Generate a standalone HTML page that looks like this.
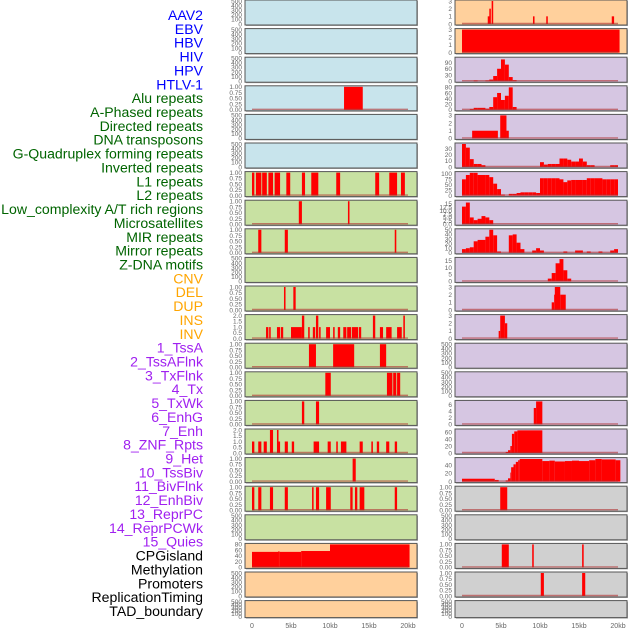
<!DOCTYPE html>
<html><head><meta charset="utf-8">
<style>
html,body{margin:0;padding:0;background:#fff;width:630px;height:630px;overflow:hidden}
svg{display:block}
.lab{font-family:"Liberation Sans",sans-serif;font-size:14.1px}
.tk{font-family:"Liberation Sans",sans-serif;font-size:6.5px;fill:#666}
.xt{font-family:"Liberation Sans",sans-serif;font-size:7px;fill:#666}
</style></head>
<body>
<svg id="chart" width="630" height="630" viewBox="0 0 630 630"></svg>
<script>
const labels=["AAV2","EBV","HBV","HIV","HPV","HTLV-1","Alu repeats","A-Phased repeats","Directed repeats","DNA transposons","G-Quadruplex forming repeats","Inverted repeats","L1 repeats","L2 repeats","Low_complexity A/T rich regions","Microsatellites","MIR repeats","Mirror repeats","Z-DNA motifs","CNV","DEL","DUP","INS","INV","1_TssA","2_TssAFlnk","3_TxFlnk","4_Tx","5_TxWk","6_EnhG","7_Enh","8_ZNF_Rpts","9_Het","10_TssBiv","11_BivFlnk","12_EnhBiv","13_ReprPC","14_ReprPCWk","15_Quies","CPGisland","Methylation","Promoters","ReplicationTiming","TAD_boundary"];
const labelColors=["#0000ff","#006400","#ffa500","#a020f0","#000000"];
const labelGroupSizes=[6,13,5,15,5];
const xTickValues=[0,5,10,15,20];
const xTickLabels=["0","5kb","10kb","15kb","20kb"];
const ticksEmpty=["0","100","200","300","400","500"];
const ticks1=["0.00","0.25","0.50","0.75","1.00"];
const ticks2=["0.0","0.5","1.0","1.5","2.0"];
const ticks3=["0","1","2","3"];
const leftBg=["b","b","b","b","b","b","g","g","g","g","g","g","g","g","g","g","g","g","g","o","o","o"];
const leftYmax=[500,500,500,1,500,500,1,1,1,500,1,2,1,1,1,2,1,1,500,80,500,500];
const leftTicks=[ticksEmpty,ticksEmpty,ticksEmpty,ticks1,ticksEmpty,ticksEmpty,ticks1,ticks1,ticks1,ticksEmpty,ticks1,ticks2,ticks1,ticks1,ticks1,ticks2,ticks1,ticks1,ticksEmpty,["0","20","40","60","80"],ticksEmpty,ticksEmpty];
const leftSegs=[[],[],[],[[11.8,14.2,1]],[],[],
[[0,0.3,1],[0.5,1.2,1],[1.3,1.9,1],[2.1,2.7,1],[2.9,3.6,1],[4.4,4.9,1],[6.4,6.8,1],[7.6,8.5,1],[10.8,11.3,1],[15.8,16.3,1],[17.6,18.6,1],[19.1,19.6,1]],
[[6.0,6.4,1],[12.3,12.5,1]],
[[0.8,1.2,1],[4.2,4.6,1],[18.3,18.5,1]],
[],
[[4.1,4.3,1],[5.3,5.6,1]],
[[1.8,2.1,1],[2.2,2.4,1],[3.2,3.6,1],[3.7,4.0,1],[5.0,6.4,1],[6.4,6.7,2],[7.2,7.4,1],[7.8,8.1,1],[8.2,8.5,2],[8.6,8.8,1],[9.5,10.0,1],[10.4,10.6,1],[11.0,11.3,1],[11.7,12.1,1],[12.2,12.7,1],[12.8,13.6,1],[13.7,14.0,1],[15.5,15.8,2],[16.4,16.8,1],[17.2,17.9,1],[18.6,19.2,1],[19.4,19.6,2]],
[[7.3,8.2,1],[10.4,13.1,1],[16.4,17.2,1]],
[[9.4,10.1,1],[17.3,18.0,1],[18.1,18.5,1],[18.6,19.0,1]],
[[6.4,6.7,1],[8.2,8.6,1]],
[[0,0.3,1],[0.8,1.2,1],[1.5,1.9,1],[2.3,2.7,2],[3.2,3.4,2],[3.4,3.6,1],[4.2,4.6,1],[5.1,5.4,1],[7.9,8.6,1],[9.7,10.1,1],[10.8,11.0,1],[11.4,12.1,1],[13.8,14.2,1],[15.3,15.5,1],[16.0,16.3,1],[17.2,17.6,1],[18.3,18.6,1]],
[[12.9,13.3,1]],
[[0,0.3,1],[0.8,1.2,1],[2.3,2.7,1],[4.2,4.6,1],[7.7,7.9,1],[8.2,8.6,1],[9.5,10.1,1],[12.6,12.9,1],[13.2,13.5,1],[13.8,14.4,1],[18.3,18.6,1]],
[],
[[0,3.4,54],[3.4,3.5,57],[3.5,6.3,54],[6.3,10,57],[10,20.2,80]],
[],[]];
const rightBg=["o","o","p","p","p","p","p","p","p","p","p","p","p","p","p","p","p","y","y","y","y","y"];
const rightYmax=[3,3,111,82,3,38,106,17,50,16.5,3,3,500,500,7,66,56,1,500,1,1,500];
const rightTicks=[ticks3,ticks3,["0","30","60","90"],["0","20","40","60","80"],ticks3,["0","10","20","30"],["0","25","50","75","100"],["0.0","2.5","5.0","7.5","10.0","12.5","15"],["0","10","20","30","40","50"],["0","5","10","15"],ticks3,ticks3,ticksEmpty,ticksEmpty,["0","2","4","6"],["0","20","40","60"],["0","20","40"],ticks1,ticksEmpty,ticks1,ticks1,ticksEmpty];
const binR2=[0,0,0,3,0,0,3,8,25,60,105,80,20,5];
const binR3=[0,0,3,7,7,7,4,10,45,60,35,50,80,10];
const binR5=[38,32,13,5,5,3,0,0,0,0,0,0,0,0,0,0,0,0,0,0,8,4,5,5,5,14,14,12,9,9,14,9,3,3,0,0,0,0,3,3];
const binR6=[75,95,105,105,95,95,95,85,55,30,5,0,8,8,12,15,15,15,15,12,80,80,80,80,80,75,62,70,72,72,72,72,80,80,80,80,75,75,75,75];
const binR7=[13,16,5,3,4,6,5,3];
const binR8=[8,10,12,25,28,28,35,50,38,3,0,0,38,40,22,8,0,0,5,10,5,0,0,0,0,0,3,0,0,5,5,0,3,0,0,3,0,0,5,8];
const binR9=[0,0,0,0,0,0,0,0,0,0,0,0,0,0,0,0,0,0,0,0,0,0,2,6,13,16,8,2];
function bins(a){return a.map((v,i)=>[i*0.5,i*0.5+0.5,v]).filter(s=>s[2]>0);}
const rightSegs=[
[[3.3,3.6,1],[3.5,3.7,2],[3.8,4.0,3],[9.1,9.3,1],[10.8,11.0,1],[19.2,19.5,1]],
[[0,20.2,3]],
bins(binR2),bins(binR3),
[[1.3,4.6,1],[4.9,5.7,3],[5.7,6.0,1]],
bins(binR5),bins(binR6),bins(binR7),bins(binR8),bins(binR9),
[[11.5,11.8,1],[11.8,11.9,2],[11.9,12.6,3],[12.6,13.3,2]],
[[4.7,4.9,1],[4.9,5.5,3],[5.5,5.8,2]],
[],[],
[[9.2,9.5,5],[9.5,10.3,7]],
[[5.6,5.9,3],[5.9,6.2,8],[6.2,6.4,20],[6.4,6.7,55],[6.7,7.1,62],[7.1,10.3,65]],
[[0,4.2,7],[4.2,4.7,4],[5.6,5.9,3],[5.9,6.2,8],[6.2,6.3,22],[6.3,6.6,35],[6.6,6.9,42],[6.9,7.2,48],[7.2,7.4,52],[7.4,10.3,55],[10.3,11.2,50],[11.2,11.9,51],[11.9,13.2,49],[13.2,14.1,50],[14.1,15.0,51],[15.0,16.3,50],[16.3,17.1,52],[17.1,17.9,55],[17.9,19.7,54],[19.7,20.3,52]],
[[4.9,5.8,1]],
[],
[[5.1,6.0,1],[9.0,9.2,1],[15.4,15.6,1]],
[[10.1,10.5,1],[15.4,15.8,1]],
[]];
const bgColors={b:"#c8e4ec",g:"#c8e1a2",o:"#ffd09c",p:"#d6c6e2",y:"#d0d0d0"};
const NS="http://www.w3.org/2000/svg";
const svg=document.getElementById('chart');
function mk(tag,attrs,parent){const e=document.createElementNS(NS,tag);for(const k in attrs)e.setAttribute(k,attrs[k]);(parent||svg).appendChild(e);return e;}
let li=0;
labelGroupSizes.forEach((n,g)=>{for(let j=0;j<n;j++){const t=mk('text',{x:203,y:20+li*13.86,'text-anchor':'end',class:'lab',fill:labelColors[g]});


t.textContent=labels[li];li++;}});
function rowTop(k){return k*28.6;}
function rowH(k){return k===21?17:25;}
function drawPanel(col,k,bg,ymax,ticks,segs){
  const px=col===0?245:455, pw=172, x0=px+7, kbw=7.8;
  const top=rowTop(k), h=rowH(k);
  const xs=kb=>x0+kb*kbw;
  const ys=v=>top+h-1-(v/ymax)*(h-2);
  const g=mk('g',{});
  
  
  mk('rect',{x:px+1,y:top+1,width:pw,height:h,fill:'#aaa'},g);
  mk('rect',{x:px,y:top,width:pw,height:h,fill:bgColors[bg],stroke:'#555','stroke-width':1},g);
  ticks.forEach((lb,i)=>{const v=parseFloat(lb);const t=mk('text',{x:px-3,y:ys(v)+2.3,'text-anchor':'end',class:'tk'},g);
    
    
    t.textContent=lb;});
  if(segs.length){
    segs.forEach(s=>{const r=mk('rect',{x:xs(s[0]),y:ys(s[2]),width:Math.max(0.8,xs(s[1])-xs(s[0])),height:ys(0)-ys(s[2]),fill:'#ff0000'},g);
      
      });
    const ln=mk('line',{x1:xs(0),x2:xs(20),y1:ys(0)-0.5,y2:ys(0)-0.5,stroke:'#b03030','stroke-opacity':0.6,'stroke-width':1.4},g);
    
    
  }
}
for(let k=0;k<22;k++){
  drawPanel(0,k,leftBg[k],leftYmax[k],leftTicks[k],leftSegs[k]);
  drawPanel(1,k,rightBg[k],rightYmax[k],rightTicks[k],rightSegs[k]);
}
[252,462].forEach(x0=>{xTickValues.forEach((v,i)=>{const t=mk('text',{x:x0+v*7.8,y:628,'text-anchor':'middle',class:'xt'});
  
  
  t.textContent=xTickLabels[i];});});
</script>
</body></html>
